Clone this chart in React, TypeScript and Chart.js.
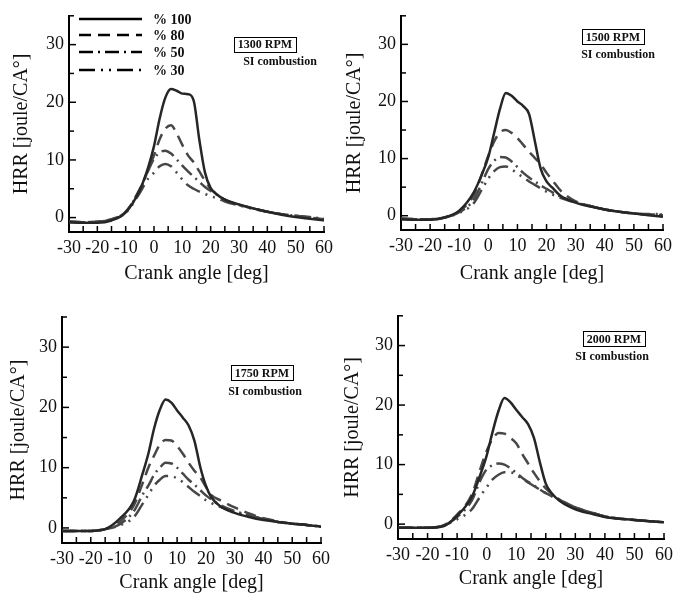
import React, { useEffect, useRef } from "react";
import { Chart, registerables } from "chart.js";
Chart.register(...registerables);

// ---------- data ----------
const crankAngle = [-30, -25, -20, -15, -10, -5, -2, 0, 2, 4, 6, 8, 10, 12, 14, 16, 18, 20, 22, 25, 30, 35, 40, 45, 50, 55, 60];

const hrr1300_100 = [-0.8, -0.9, -0.9, -0.5, 0.9, 4.8, 8.8, 12.4, 17.2, 20.8, 22.3, 22.0, 21.5, 21.4, 20.3, 13.5, 7.8, 5.1, 4.1, 3.1, 2.3, 1.6, 1.0, 0.5, 0.1, -0.2, -0.5];
const hrr1300_80 = [-0.7, -0.8, -0.7, -0.3, 1.0, 5.0, 8.3, 10.8, 13.6, 15.4, 16.0, 14.6, 12.6, 10.8, 9.6, 8.0, 6.4, 5.0, 4.1, 3.1, 2.2, 1.6, 1.0, 0.6, 0.3, 0.0, -0.3];
const hrr1300_50 = [-0.7, -0.8, -0.7, -0.3, 1.0, 4.8, 8.2, 10.2, 11.3, 11.6, 11.1, 10.1, 9.0, 8.0, 7.1, 6.2, 5.3, 4.6, 4.0, 3.1, 2.2, 1.6, 1.0, 0.6, 0.3, 0.1, -0.2];
const hrr1300_30 = [-0.8, -0.8, -0.7, -0.3, 0.8, 4.3, 6.8, 7.8, 8.9, 9.3, 8.9, 7.8, 6.6, 5.6, 5.0, 4.5, 4.1, 3.7, 3.4, 2.8, 2.1, 1.5, 1.0, 0.6, 0.3, 0.0, -0.3];

const hrr1500_100 = [-0.6, -0.7, -0.7, -0.3, 0.9, 4.1, 7.5, 10.3, 14.5, 18.7, 21.5, 21.0, 20.0, 19.2, 17.8, 13.0, 8.2, 6.0, 4.9, 3.4, 2.3, 1.6, 1.1, 0.7, 0.4, 0.1, -0.2];
const hrr1500_80 = [-0.5, -0.6, -0.6, -0.3, 0.8, 3.6, 7.6, 10.5, 13.0, 14.6, 15.0, 14.5, 13.6, 12.4, 11.2, 10.1, 9.0, 7.5, 6.2, 4.3, 2.5, 1.7, 1.1, 0.7, 0.4, 0.2, 0.1];
const hrr1500_50 = [-0.5, -0.6, -0.6, -0.3, 0.6, 2.8, 6.0, 8.2, 9.6, 10.3, 10.2, 9.5, 8.5, 7.5, 6.7, 6.0, 5.3, 4.7, 4.1, 3.3, 2.4, 1.7, 1.1, 0.7, 0.4, 0.2, 0.2];
const hrr1500_30 = [-0.6, -0.6, -0.6, -0.3, 0.5, 2.2, 4.8, 6.5, 7.8, 8.5, 8.6, 8.1, 7.4, 6.7, 6.0, 5.4, 4.8, 4.2, 3.7, 3.1, 2.3, 1.7, 1.1, 0.7, 0.4, 0.3, 0.3];

const hrr1750_100 = [-0.5, -0.5, -0.5, -0.2, 1.5, 4.5, 9.0, 12.3, 16.5, 19.6, 21.3, 20.8, 19.5, 18.3, 17.0, 14.5, 10.2, 7.0, 5.0, 3.6, 2.5, 1.8, 1.3, 1.0, 0.7, 0.5, 0.2];
const hrr1750_80 = [-0.5, -0.5, -0.5, -0.2, 1.0, 3.8, 7.4, 10.0, 12.0, 13.8, 14.6, 14.5, 13.6, 12.3, 10.8, 9.5, 8.4, 6.8, 5.4, 4.6, 3.4, 2.4, 1.6, 1.1, 0.7, 0.5, 0.2];
const hrr1750_50 = [-0.5, -0.5, -0.5, -0.2, 0.6, 2.8, 5.5, 7.0, 8.8, 10.0, 10.8, 10.7, 10.0, 9.0, 8.0, 7.2, 6.3, 5.4, 4.7, 3.8, 2.8, 2.1, 1.5, 1.0, 0.7, 0.5, 0.2];
const hrr1750_30 = [-0.5, -0.5, -0.5, -0.2, 0.4, 1.8, 4.0, 5.5, 7.0, 8.0, 8.6, 8.6, 8.2, 7.6, 6.8, 6.0, 5.3, 4.6, 4.1, 3.5, 2.7, 2.0, 1.5, 1.0, 0.7, 0.5, 0.2];

const hrr2000_100 = [-0.6, -0.6, -0.6, -0.4, 1.4, 4.6, 8.5, 11.5, 15.5, 19.0, 21.2, 20.5, 19.2, 18.0, 16.8, 14.5, 10.4, 6.8, 5.2, 3.8, 2.5, 1.8, 1.2, 0.9, 0.7, 0.5, 0.3];
const hrr2000_80 = [-0.6, -0.6, -0.6, -0.3, 1.6, 5.0, 9.5, 12.3, 14.3, 15.3, 15.2, 14.5, 13.6, 11.8, 10.2, 8.6, 7.2, 6.0, 5.1, 4.0, 2.8, 2.0, 1.3, 0.9, 0.7, 0.5, 0.3];
const hrr2000_50 = [-0.6, -0.6, -0.6, -0.3, 1.2, 4.0, 7.5, 9.2, 9.9, 10.2, 10.0, 9.4, 8.6, 7.8, 7.1, 6.5, 5.8, 5.2, 4.7, 4.0, 2.8, 2.0, 1.3, 0.9, 0.7, 0.5, 0.3];
const hrr2000_30 = [-0.6, -0.6, -0.6, -0.3, 0.8, 2.5, 4.8, 6.2, 7.5, 8.3, 8.7, 8.7, 8.3, 7.6, 7.0, 6.4, 5.8, 5.2, 4.7, 3.9, 2.8, 2.0, 1.3, 0.9, 0.7, 0.5, 0.3];

const loadLabels = ["% 100", "% 80", "% 50", "% 30"];
const rpmLabels = ["1300 RPM", "1500 RPM", "1750 RPM", "2000 RPM"];
const noteLabel = "SI combustion";
const xTicks = [-30, -25, -20, -15, -10, -5, 0, 5, 10, 15, 20, 25, 30, 35, 40, 45, 50, 55, 60];
const yTicks = [0, 5, 10, 15, 20, 25, 30, 35];
const xTitle = "Crank angle [deg]";
const yTitle = "HRR [joule/CA\u00B0]";

// ---------- styles ----------
const FONT = "'Liberation Serif', 'Times New Roman', serif";
const dashes: number[][] = [[], [12, 7], [14, 5, 2, 5], [16, 6, 2, 6, 2, 6]];
const lineColors = ["#262626", "#474747", "#474747", "#474747"];

type PanelCfg = {
  left: number; top: number; width: number; height: number;
  area: { l: number; r: number; t: number; b: number };
  series: number[][];
  rpm: string;
  box: [number, number];
  note: [number, number];
  legend: boolean;
  yTitlePad: number;
  xTitlePad: number;
};

const panels: PanelCfg[] = [
  { left: 0, top: 0, width: 344, height: 300, area: { l: 69, r: 324, t: 15, b: 232 },
    series: [hrr1300_100, hrr1300_80, hrr1300_50, hrr1300_30], rpm: rpmLabels[0],
    box: [265, 44], note: [280, 62], legend: true, yTitlePad: 10, xTitlePad: 14 },
  { left: 344, top: 0, width: 344, height: 300, area: { l: 57, r: 319, t: 7, b: 230 },
    series: [hrr1500_100, hrr1500_80, hrr1500_50, hrr1500_30], rpm: rpmLabels[1],
    box: [269, 36.5], note: [274, 55], legend: false, yTitlePad: -1, xTitlePad: 14 },
  { left: 0, top: 300, width: 344, height: 297, area: { l: 62, r: 321, t: 17, b: 243 },
    series: [hrr1750_100, hrr1750_80, hrr1750_50, hrr1750_30], rpm: rpmLabels[2],
    box: [262, 72.5], note: [265, 92], legend: false, yTitlePad: 7, xTitlePad: 2.5 },
  { left: 344, top: 300, width: 344, height: 297, area: { l: 54, r: 320, t: 10, b: 239 },
    series: [hrr2000_100, hrr2000_80, hrr2000_50, hrr2000_30], rpm: rpmLabels[3],
    box: [270, 38.5], note: [268, 57], legend: false, yTitlePad: -3, xTitlePad: 6 },
];

function Panel({ cfg }: { cfg: PanelCfg }) {
  const ref = useRef<HTMLCanvasElement | null>(null);
  useEffect(() => {
    if (!ref.current) return;
    const { width, height, area } = cfg;

    const decor = {
      id: "decor",
      afterDraw(chart: any) {
        const { ctx, chartArea: a, scales } = chart;
        const x = scales.x, y = scales.y;
        ctx.save();
        ctx.strokeStyle = "#000";
        ctx.lineWidth = 1.5;
        ctx.setLineDash([]);
        for (const v of xTicks) {
          const px = x.getPixelForValue(v);
          ctx.beginPath();
          ctx.moveTo(px, a.bottom);
          ctx.lineTo(px, a.bottom - 6);
          ctx.stroke();
        }
        for (const v of yTicks) {
          const py = y.getPixelForValue(v);
          ctx.beginPath();
          ctx.moveTo(a.left, py);
          ctx.lineTo(a.left + (v % 10 === 0 ? 7 : 5), py);
          ctx.stroke();
        }
        // annotation box
        ctx.font = `bold 12px ${FONT}`;
        ctx.fillStyle = "#111";
        ctx.textAlign = "center";
        ctx.textBaseline = "middle";
        const w = ctx.measureText(cfg.rpm).width + 8;
        const h = 15;
        ctx.lineWidth = 1;
        ctx.strokeRect(Math.round(cfg.box[0] - w / 2) + 0.5, Math.round(cfg.box[1] - h / 2) + 0.5, Math.round(w), h);
        ctx.fillText(cfg.rpm, cfg.box[0], cfg.box[1] + 1);
        ctx.fillText(noteLabel, cfg.note[0], cfg.note[1]);
        // legend
        if (cfg.legend) {
          const rows = [19, 35, 52, 70];
          ctx.textAlign = "left";
          ctx.font = `bold 14px ${FONT}`;
          rows.forEach((ry, i) => {
            ctx.beginPath();
            ctx.setLineDash(dashes[i]);
            ctx.lineWidth = 2.5;
            ctx.strokeStyle = "#000";
            ctx.moveTo(79, ry);
            ctx.lineTo(142, ry);
            ctx.stroke();
            ctx.setLineDash([]);
            ctx.fillText(loadLabels[i], 153, ry + 1);
          });
        }
        ctx.restore();
      },
    };

    const chart = new Chart(ref.current, {
      type: "line",
      data: {
        datasets: cfg.series.map((ys, i) => ({
          label: loadLabels[i],
          data: crankAngle.map((xv, j) => ({ x: xv, y: ys[j] })),
          borderColor: lineColors[i],
          borderWidth: 2.5,
          borderDash: dashes[i],
          pointRadius: 0,
          fill: false,
          cubicInterpolationMode: "monotone",
        })),
      },
      options: {
        responsive: false,
        animation: false,
        devicePixelRatio: 1,
        layout: { padding: { top: area.t, right: width - area.r, left: 0, bottom: 0 } },
        plugins: { legend: { display: false }, tooltip: { enabled: false } },
        scales: {
          x: {
            type: "linear",
            min: -30,
            max: 60,
            afterBuildTicks: (s: any) => { s.ticks = xTicks.map((v) => ({ value: v })); },
            afterFit: (s: any) => { s.height = height - area.b; },
            grid: { display: false, drawTicks: false },
            border: { display: true, color: "#000", width: 2 },
            ticks: {
              autoSkip: false,
              maxRotation: 0,
              padding: 5,
              color: "#111",
              font: { family: FONT, size: 18 },
              callback: (v: any) => (Number(v) % 10 === 0 ? String(v) : null),
            },
            title: {
              display: true, text: xTitle, color: "#111",
              font: { family: FONT, size: 20, lineHeight: 1.2 },
              padding: { top: 0, bottom: cfg.xTitlePad },
            },
          },
          y: {
            type: "linear",
            min: -2.5,
            max: 35,
            afterBuildTicks: (s: any) => { s.ticks = yTicks.map((v) => ({ value: v })); },
            afterFit: (s: any) => { s.width = area.l; },
            grid: { display: false, drawTicks: false },
            border: { display: true, color: "#000", width: 2 },
            ticks: {
              autoSkip: false,
              padding: 5,
              color: "#111",
              font: { family: FONT, size: 18 },
              callback: (v: any) => (Number(v) % 10 === 0 && Number(v) <= 30 ? String(v) : null),
            },
            title: {
              display: true, text: yTitle, color: "#111",
              font: { family: FONT, size: 20, lineHeight: 1.2 },
              padding: { top: cfg.yTitlePad, bottom: 0 },
            },
          },
        },
      },
      plugins: [decor],
    } as any);
    return () => chart.destroy();
  }, [cfg]);

  return (
    <div style={{ position: "absolute", left: cfg.left, top: cfg.top, width: cfg.width, height: cfg.height }}>
      <canvas ref={ref} width={cfg.width} height={cfg.height} style={{ width: cfg.width, height: cfg.height, display: "block" }} />
    </div>
  );
}

export default function App() {
  return (
    <div style={{ position: "absolute", left: 0, top: 0, width: 688, height: 597, overflow: "hidden", background: "#fff" }}>
      {panels.map((p, i) => (
        <Panel key={i} cfg={p} />
      ))}
    </div>
  );
}
